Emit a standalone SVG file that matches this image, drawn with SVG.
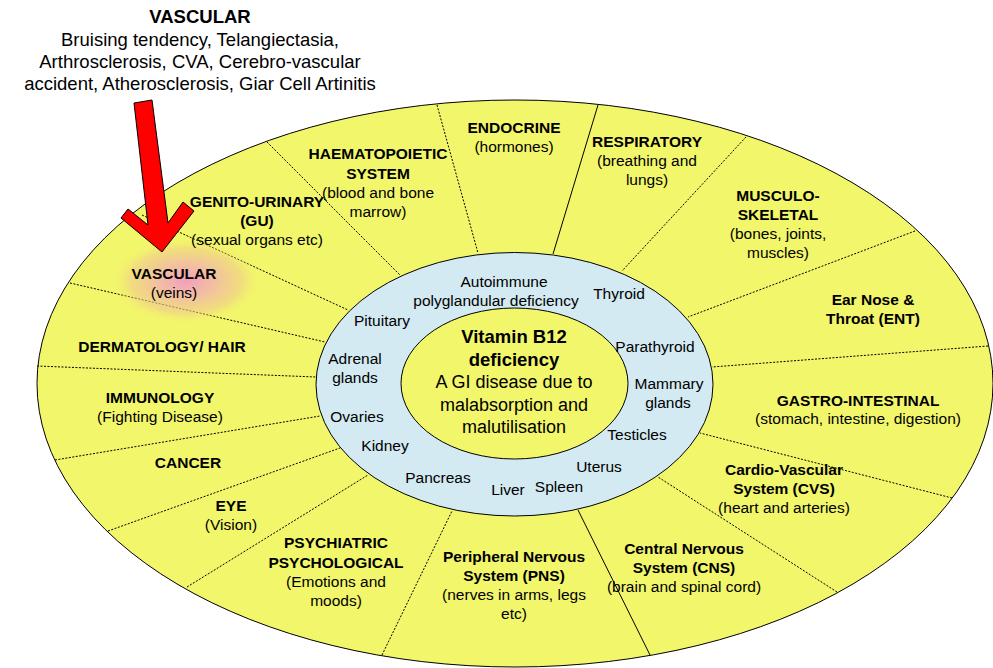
<svg xmlns="http://www.w3.org/2000/svg" width="993" height="668" viewBox="0 0 993 668">
<style>
text{font-family:"Liberation Sans",Arial,sans-serif;fill:#000;text-anchor:middle}
.b{font-size:15.5px;font-weight:bold}
.r{font-size:15.5px}
.t{font-size:18.5px}
.tb{font-size:18.5px;font-weight:bold}
.c{font-size:18px}
.cb{font-size:18.5px;font-weight:bold}
.dot{stroke:#000;stroke-width:1;stroke-dasharray:2 1.5;fill:none}
.sol{stroke:#000;stroke-width:1;fill:none}
</style>
<defs>
<radialGradient id="glow" cx="0.5" cy="0.5" r="0.5">
<stop offset="0" stop-color="#f294c8" stop-opacity="0.9"/>
<stop offset="0.4" stop-color="#f2b0b0" stop-opacity="0.75"/>
<stop offset="0.75" stop-color="#f0cc8a" stop-opacity="0.6"/>
<stop offset="1" stop-color="#f2f66b" stop-opacity="0"/>
</radialGradient>
</defs>
<rect width="993" height="668" fill="#fff"/>
<g id="outer">
<ellipse cx="515" cy="383.5" rx="478" ry="283.5" fill="#f2f66b" stroke="#000" stroke-width="1"/>
</g>
<g id="middle">
<ellipse cx="514.5" cy="384.25" rx="198.5" ry="131.75" fill="#d3eaf2" stroke="#000" stroke-width="1"/>
</g>
<g id="inner">
<ellipse cx="514.5" cy="383.5" rx="113.5" ry="75.5" fill="#f2f66b" stroke="#000" stroke-width="1"/>
</g>
<g id="connectors">
<line class="dot" x1="267" y1="142" x2="400" y2="275"/>
<line class="dot" x1="437" y1="105" x2="478" y2="253"/>
<line class="sol" x1="598" y1="105" x2="553" y2="254"/>
<line class="dot" x1="746" y1="137" x2="622" y2="271"/>
<line class="dot" x1="915" y1="231" x2="688" y2="317"/>
<line class="dot" x1="988" y1="346" x2="712" y2="367"/>
<line class="dot" x1="952" y1="498" x2="700" y2="433"/>
<line class="dot" x1="837" y1="592" x2="658" y2="477"/>
<line class="sol" x1="650" y1="655" x2="578" y2="510"/>
<line class="dot" x1="382" y1="655" x2="452" y2="511"/>
<line class="dot" x1="187" y1="587" x2="368" y2="475"/>
<line class="dot" x1="108" y1="531" x2="340" y2="448"/>
<line class="dot" x1="55" y1="460" x2="320" y2="416"/>
<line class="dot" x1="37" y1="366" x2="316" y2="377"/>
<line class="dot" x1="70" y1="283" x2="325" y2="342"/>
<line class="dot" x1="142" y1="215" x2="348" y2="310"/>
</g>
<g id="vascular-glow">
<ellipse cx="186" cy="281" rx="75" ry="43" fill="url(#glow)"/>
</g>
<g id="callout">
<text class="tb" x="200" y="23">VASCULAR</text>
<text class="t" x="200" y="46">Bruising tendency, Telangiectasia,</text>
<text class="t" x="200" y="68">Arthrosclerosis, CVA, Cerebro-vascular</text>
<text class="t" x="200" y="90">accident, Atherosclerosis, Giar Cell Artinitis</text>
</g>
<g id="vascular">
<text class="b" x="174" y="279">VASCULAR</text>
<text class="r" x="174" y="298">(veins)</text>
</g>
<g id="genito-urinary">
<text class="b" x="257" y="207">GENITO-URINARY</text>
<text class="b" x="257" y="226">(GU)</text>
<text class="r" x="257" y="245">(sexual organs etc)</text>
</g>
<g id="haematopoietic">
<text class="b" x="378" y="159">HAEMATOPOIETIC</text>
<text class="b" x="378" y="179">SYSTEM</text>
<text class="r" x="378" y="198">(blood and bone</text>
<text class="r" x="378" y="217">marrow)</text>
</g>
<g id="endocrine">
<text class="b" x="514" y="133">ENDOCRINE</text>
<text class="r" x="514" y="152">(hormones)</text>
</g>
<g id="respiratory">
<text class="b" x="647" y="147">RESPIRATORY</text>
<text class="r" x="647" y="166">(breathing and</text>
<text class="r" x="647" y="185">lungs)</text>
</g>
<g id="musculo-skeletal">
<text class="b" x="778" y="201">MUSCULO-</text>
<text class="b" x="778" y="220">SKELETAL</text>
<text class="r" x="778" y="239">(bones, joints,</text>
<text class="r" x="778" y="258">muscles)</text>
</g>
<g id="ent">
<text class="b" x="873" y="305">Ear Nose &amp;</text>
<text class="b" x="873" y="324">Throat (ENT)</text>
</g>
<g id="gastro-intestinal">
<text class="b" x="858" y="406">GASTRO-INTESTINAL</text>
<text class="r" x="858" y="424">(stomach, intestine, digestion)</text>
</g>
<g id="cvs">
<text class="b" x="784" y="475">Cardio-Vascular</text>
<text class="b" x="784" y="494">System (CVS)</text>
<text class="r" x="784" y="513">(heart and arteries)</text>
</g>
<g id="cns">
<text class="b" x="684" y="554">Central Nervous</text>
<text class="b" x="684" y="573">System (CNS)</text>
<text class="r" x="684" y="592">(brain and spinal cord)</text>
</g>
<g id="pns">
<text class="b" x="514" y="562">Peripheral Nervous</text>
<text class="b" x="514" y="581">System (PNS)</text>
<text class="r" x="514" y="600">(nerves in arms, legs</text>
<text class="r" x="514" y="619">etc)</text>
</g>
<g id="psychiatric">
<text class="b" x="336" y="548">PSYCHIATRIC</text>
<text class="b" x="336" y="568">PSYCHOLOGICAL</text>
<text class="r" x="336" y="587">(Emotions and</text>
<text class="r" x="336" y="606">moods)</text>
</g>
<g id="eye">
<text class="b" x="231" y="511">EYE</text>
<text class="r" x="231" y="530">(Vision)</text>
</g>
<g id="cancer">
<text class="b" x="188" y="468">CANCER</text>
</g>
<g id="immunology">
<text class="b" x="160" y="403">IMMUNOLOGY</text>
<text class="r" x="160" y="422">(Fighting Disease)</text>
</g>
<g id="dermatology">
<text class="b" x="162" y="352">DERMATOLOGY/ HAIR</text>
</g>
<g id="glands">
<text class="r" x="504" y="287">Autoimmune</text>
<text class="r" x="496" y="306">polyglandular deficiency</text>
<text class="r" x="619" y="299">Thyroid</text>
<text class="r" x="382" y="326">Pituitary</text>
<text class="r" x="655" y="352">Parathyroid</text>
<text class="r" x="355" y="364">Adrenal</text>
<text class="r" x="355" y="383">glands</text>
<text class="r" x="669" y="389">Mammary</text>
<text class="r" x="668" y="408">glands</text>
<text class="r" x="357" y="422">Ovaries</text>
<text class="r" x="637" y="440">Testicles</text>
<text class="r" x="385" y="451">Kidney</text>
<text class="r" x="599" y="472">Uterus</text>
<text class="r" x="438" y="483">Pancreas</text>
<text class="r" x="508" y="495">Liver</text>
<text class="r" x="559" y="492">Spleen</text>
</g>
<g id="center">
<text class="cb" x="514" y="343">Vitamin B12</text>
<text class="cb" x="514" y="366">deficiency</text>
<text class="c" x="514" y="388">A GI disease due to</text>
<text class="c" x="514" y="411">malabsorption and</text>
<text class="c" x="514" y="433">malutilisation</text>
</g>
<g id="arrow">
<polygon points="134,103 152,100 168,223 183,202 194,211 162,252 121,218 128,209 148,225" fill="#ff0000" stroke="#000" stroke-width="1" stroke-linejoin="miter"/>
</g>
</svg>
